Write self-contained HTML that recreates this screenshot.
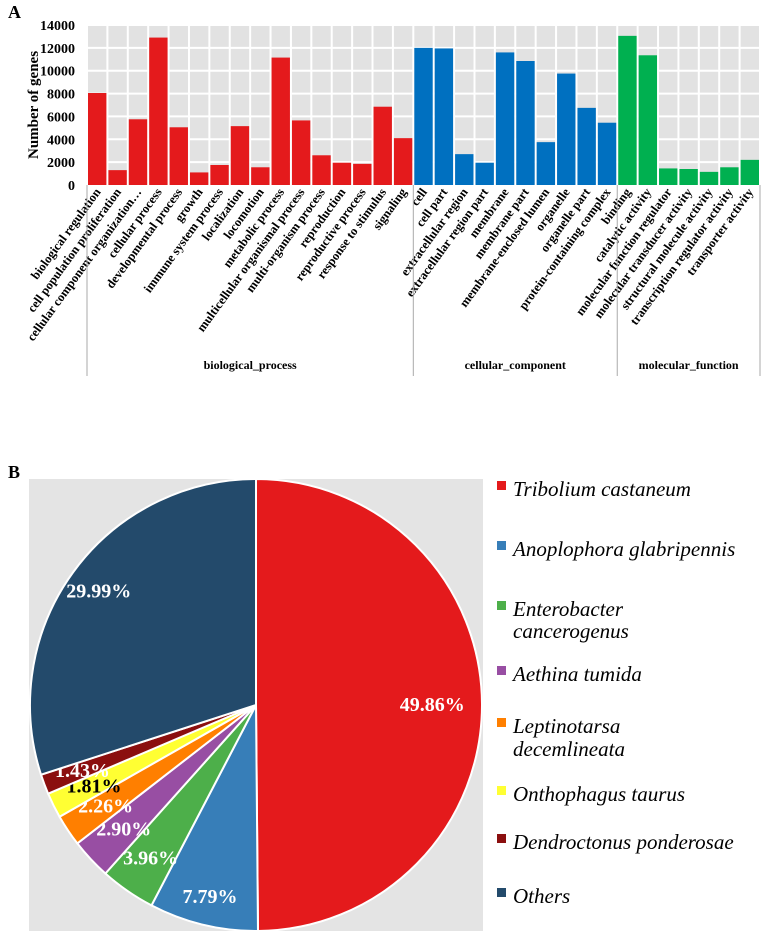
<!DOCTYPE html>
<html><head><meta charset="utf-8"><style>
body{margin:0;background:#fff;width:767px;height:934px;overflow:hidden}
svg{display:block;font-family:"Liberation Serif",serif}
</style></head><body>
<svg id="s" width="767" height="934">
<text x="8" y="18" font-size="18" font-weight="bold">A</text>
<text x="8" y="478" font-size="18" font-weight="bold">B</text>
<g id="bar"></g>
<g id="pie"></g>
</svg>
<script>
const categories=["biological regulation","cell population proliferation","cellular component organization…","cellular process","developmental process","growth","immune system process","localization","locomotion","metabolic process","multicellular organismal process","multi-organism process","reproduction","reproductive process","response to stimulus","signaling","cell","cell part","extracellular region","extracellular region part","membrane","membrane part","membrane-enclosed lumen","organelle","organelle part","protein-containing complex","binding","catalytic activity","molecular function regulator","molecular transducer activity","structural molecule activity","transcription regulator activity","transporter activity"];
const geneCounts=[8050,1300,5750,12900,5050,1100,1750,5150,1550,11150,5650,2600,1950,1850,6850,4100,12000,11950,2700,1950,11600,10850,3750,9750,6750,5450,13050,11350,1450,1400,1150,1550,2200];
const groups=["biological_process","cellular_component","molecular_function"];
const groupSizes=[16,10,7];
const groupColors=["#e41a1c","#0070c0","#00b050"];
const yTicks=[0,2000,4000,6000,8000,10000,12000,14000];
const pieLabels=["Tribolium castaneum","Anoplophora glabripennis","Enterobacter cancerogenus","Aethina tumida","Leptinotarsa decemlineata","Onthophagus taurus","Dendroctonus ponderosae","Others"];
const piePct=[49.86,7.79,3.96,2.90,2.26,1.81,1.43,29.99];
const pieColors=["#e41a1c","#377eb8","#4daf4a","#984ea3","#ff7f00","#ffff33","#8b0f0f","#234a6b"];

const NS="http://www.w3.org/2000/svg";
function mk(tag,attrs,parent,txt){const e=document.createElementNS(NS,tag);for(const k in attrs)e.setAttribute(k,attrs[k]);if(txt!==undefined)e.textContent=txt;parent.appendChild(e);return e;}
const bar=document.getElementById('bar');
const X0=87,X1=760,Y0=185,Y1=25,YMAX=14000;
const bw=(X1-X0)/categories.length;
const y=v=>Y0-(v/YMAX)*(Y0-Y1);
const x=i=>X0+i*bw;
let r=mk('rect',{x:X0,y:Y1,width:X1-X0,height:Y0-Y1,fill:"#e2e2e2"},bar);


for(let i=0;i<=categories.length;i++){let l=mk('line',{x1:x(i),x2:x(i),y1:Y1,y2:Y0,stroke:"#fff","stroke-width":2},bar);}
yTicks.forEach(t=>{let l=mk('line',{x1:X0,x2:X1,y1:y(t),y2:y(t),stroke:"#fff","stroke-width":2},bar);
let tx=mk('text',{x:X0-12,y:y(t)+5,"text-anchor":"end","font-size":14,"font-weight":"bold"},bar,String(t));});
let yt=mk('text',{x:0,y:0,transform:"translate(38,105) rotate(-90)","text-anchor":"middle","font-size":15,"font-weight":"bold"},bar,"Number of genes");

let start=0;const bounds=[0];
groupSizes.forEach(s=>{start+=s;bounds.push(start);});
categories.forEach((c,i)=>{
  let g=0;while(i>=bounds[g+1])g++;
  let b=mk('rect',{x:x(i)+1,y:y(geneCounts[i]),width:bw-2,height:Y0-y(geneCounts[i]),fill:groupColors[g]},bar);
  
  
  const cx=x(i)+bw/2+4;
  let t=mk('text',{x:0,y:0,transform:`translate(${cx},192) rotate(-54)`,"text-anchor":"end","font-size":12.5,"font-weight":"bold"},bar,c);
  
  
});
bounds.forEach(bi=>{let l=mk('line',{x1:x(bi),x2:x(bi),y1:Y0,y2:376,stroke:"#aaa","stroke-width":1},bar);});
groups.forEach((g,k)=>{let t=mk('text',{x:(x(bounds[k])+x(bounds[k+1]))/2,y:369,"text-anchor":"middle","font-size":12,"font-weight":"bold"},bar,g);});

const pie=document.getElementById('pie');
let pb=mk('rect',{x:29,y:479,width:454,height:452,fill:"#e4e4e4"},pie);

const CX=256,CY=705,R=226;
const tot=piePct.reduce((a,b)=>a+b,0);
let ang=0;
const lblR=[0.78,0.87,0.82,0.8,0.8,0.8,0.82,0.86];
piePct.forEach((p,i)=>{
  const a0=ang,a1=ang+p/tot*2*Math.PI;ang=a1;
  const p0=[CX+R*Math.sin(a0),CY-R*Math.cos(a0)],p1=[CX+R*Math.sin(a1),CY-R*Math.cos(a1)];
  const large=(a1-a0)>Math.PI?1:0;
  let s=mk('path',{d:`M${CX},${CY}L${p0[0]},${p0[1]}A${R},${R} 0 ${large} 1 ${p1[0]},${p1[1]}Z`,fill:pieColors[i],stroke:"#fff","stroke-width":2},pie);
  
  
  const am=(a0+a1)/2,rr=R*lblR[i];
  let t=mk('text',{x:CX+rr*Math.sin(am),y:CY-rr*Math.cos(am)+7,"text-anchor":"middle","font-size":20,"font-weight":"bold",fill:i==5?"#000":"#fff"},pie,p.toFixed(2)+"%");
  
  
});
const legY=[[490],[550],[610,632],[675],[727,750],[795],[843],[897]];
pieLabels.forEach((l,i)=>{
  let sw=mk('rect',{x:497,y:legY[i][0]-9,width:9,height:9,fill:pieColors[i]},pie);
  
  let parts=legY[i].length>1?[l.split(' ')[0],l.split(' ').slice(1).join(' ')]:[l];
  parts.forEach((pt,k)=>{let t=mk('text',{x:513,y:legY[i][k]+6,"font-size":21,"font-style":"italic"},pie,pt);});
});
</script>
</body></html>
